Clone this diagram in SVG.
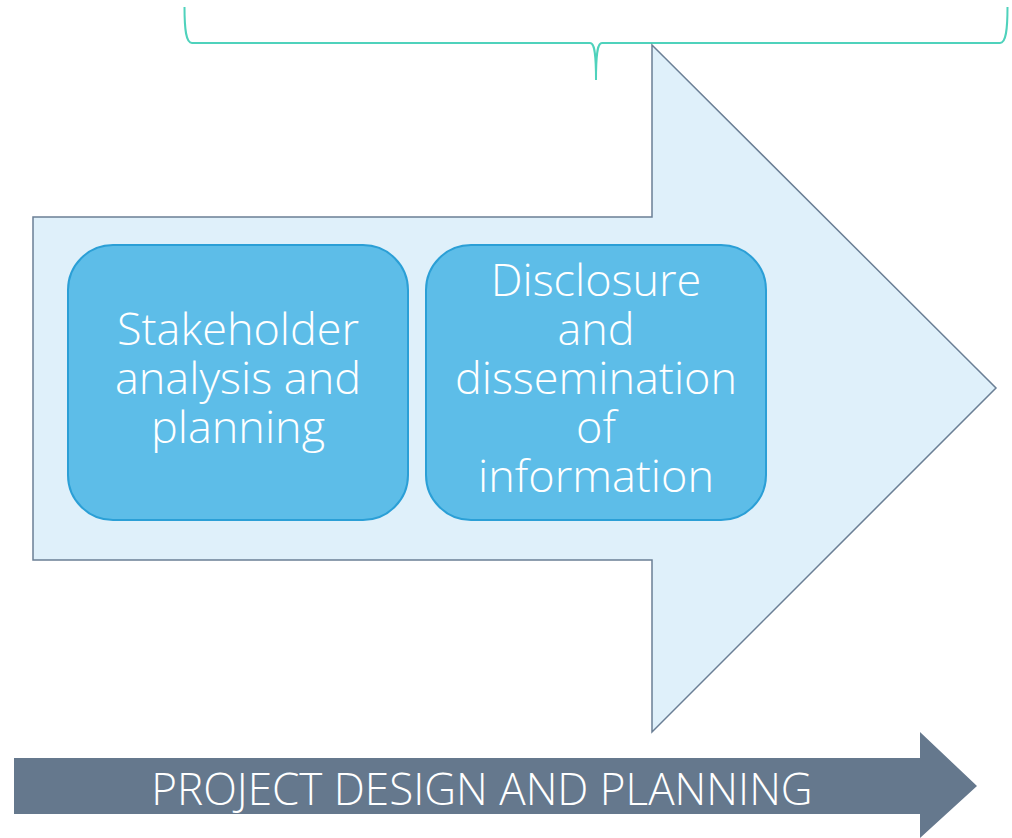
<svg xmlns="http://www.w3.org/2000/svg" width="1012" height="838" viewBox="0 0 1012 838">
<style>
.t{font-family:"Open Sans","Noto Sans",sans-serif;font-weight:300;fill:#ffffff;text-anchor:middle}
.box{fill:#5DBDE8;stroke:#2B9FD6;stroke-width:2}
</style>
<rect width="1012" height="838" fill="#ffffff"/>
<g id="brace">
<path d="M184.5,7 C184.5,30 186,43 192,43 L590,43 C594,43 596,50 596,80 C596,50 598,43 602,43 L1000,43 C1006,43 1007.5,30 1007.5,7" fill="none" stroke="#4FD2BC" stroke-width="2"/>
</g>
<g id="big-arrow">
<path d="M33,217 L652,217 L652,45 L996,388 L652,732 L652,560 L33,560 Z" fill="#DFF0FA" stroke="#6B7F95" stroke-width="1.5"/>
</g>
<g id="node1">
<rect class="box" x="68" y="245" width="340" height="275" rx="45"/>
<text class="t" font-size="45" x="238"><tspan x="238" y="345">Stakeholder</tspan><tspan x="238" y="394">analysis and</tspan><tspan x="238" y="443">planning</tspan></text>
</g>
<g id="node2">
<rect class="box" x="426" y="245" width="340" height="275" rx="45"/>
<text class="t" font-size="45" x="596"><tspan x="596" y="296">Disclosure</tspan><tspan x="596" y="345">and</tspan><tspan x="596" y="394">dissemination</tspan><tspan x="596" y="443">of</tspan><tspan x="596" y="492">information</tspan></text>
</g>
<g id="phase-arrow">
<path d="M14,758 L920,758 L920,732 L977,786 L920,838 L920,814 L14,814 Z" fill="#65788D"/>
<text class="t" font-size="44" x="482" y="805">PROJECT DESIGN AND PLANNING</text>
</g>
<g id="connectors"></g>
</svg>
